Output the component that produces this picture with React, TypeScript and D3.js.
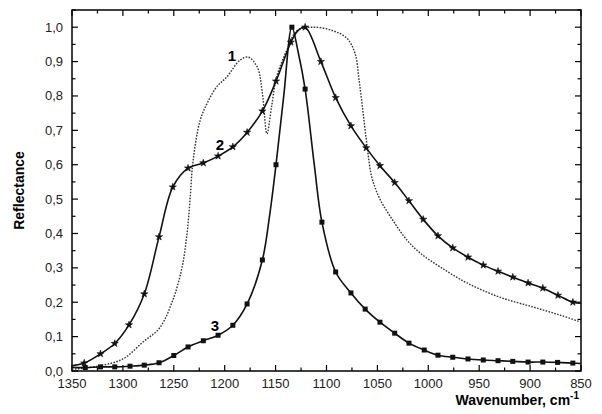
import React from 'react';
import * as d3 from 'd3';

// Curve 1 (dotted)
const curve1: [number, number][] = [
  [1350, 0.005], [1325, 0.014], [1300, 0.035], [1280, 0.085], [1264, 0.125],
  [1251, 0.206], [1242, 0.3], [1237, 0.4], [1234, 0.5], [1231, 0.613],
  [1224, 0.73], [1217, 0.78], [1208, 0.826], [1198, 0.855], [1185, 0.904],
  [1177, 0.913], [1168, 0.884], [1163, 0.808], [1158.5, 0.69], [1154, 0.768],
  [1149, 0.855], [1139, 0.933], [1129, 0.99], [1113, 1.0], [1094, 0.99],
  [1080, 0.968], [1072, 0.924], [1068, 0.846], [1064, 0.75], [1060, 0.651],
  [1055.5, 0.564], [1047.5, 0.5], [1035, 0.439], [1021, 0.381], [1008, 0.343],
  [988, 0.302], [962, 0.256], [930, 0.215], [897, 0.186], [871, 0.163], [850, 0.142],
];

// Curve 2 (solid, star markers)
const curve2Markers: [number, number][] = [
  [1338, 0.023], [1322, 0.05], [1308, 0.08], [1294, 0.134], [1279, 0.224],
  [1264.5, 0.39], [1251, 0.535], [1236, 0.59], [1221, 0.605], [1206.5, 0.625],
  [1192, 0.652], [1178, 0.694], [1163, 0.756], [1149.6, 0.843], [1135, 0.956],
  [1121, 1.0], [1105.5, 0.9], [1091, 0.795], [1076, 0.713], [1061, 0.649],
  [1047.5, 0.597], [1033, 0.548], [1019, 0.495], [1005, 0.441], [990.5, 0.393],
  [976, 0.358], [961, 0.331], [946, 0.308], [931.5, 0.29], [917, 0.273],
  [902, 0.256], [887.5, 0.241], [872.6, 0.22], [858, 0.2],
];
const curve2Line: [number, number][] = [
  [1350, 0.015], ...curve2Markers.slice(0, 15), [1128, 0.99],
  ...curve2Markers.slice(15), [850, 0.197],
];

// Curve 3 (solid, square markers)
const curve3Markers: [number, number][] = [
  [1337, 0.01], [1322, 0.012], [1308, 0.012], [1293, 0.014], [1279, 0.017],
  [1264.5, 0.024], [1250, 0.045], [1236, 0.07], [1221, 0.088], [1206.5, 0.104],
  [1192, 0.133], [1178, 0.195], [1163, 0.323], [1149.6, 0.6], [1134, 1.0],
  [1121, 0.82], [1104.5, 0.433], [1091, 0.288], [1076, 0.227], [1062, 0.18],
  [1047.5, 0.142], [1033, 0.11], [1019, 0.081], [1004, 0.061], [990.5, 0.046],
  [976, 0.04], [961, 0.035], [946, 0.032], [931.5, 0.03], [917, 0.028],
  [902, 0.026], [887.5, 0.026], [873, 0.025], [858, 0.023],
];
const curve3Line: [number, number][] = [
  [1350, 0.01], ...curve3Markers.slice(0, 13), [1156, 0.45],
  curve3Markers[13], [1142, 0.8], curve3Markers[14], [1128, 0.93],
  curve3Markers[15], [1112, 0.6], ...curve3Markers.slice(16), [850, 0.022],
];

const xTicks = [1350, 1300, 1250, 1200, 1150, 1100, 1050, 1000, 950, 900, 850];
const yTicks = [0, 0.1, 0.2, 0.3, 0.4, 0.5, 0.6, 0.7, 0.8, 0.9, 1.0];

const W = 602;
const H = 414;
const L = 72, R = 581, T = 10, B = 371;

export default function App() {
  const x = d3.scaleLinear().domain([1350, 850]).range([L, R]);
  const y = d3.scaleLinear().domain([0, 1.05]).range([B, T]);

  const line = d3
    .line<[number, number]>()
    .x((d) => x(d[0]))
    .y((d) => y(d[1]))
    .curve(d3.curveCatmullRom.alpha(0.5));

  const star = d3.symbol().type(d3.symbolStar).size(16)();
  const xMinor = d3.range(1350, 849, -25);
  const yMinor = d3.range(0, 1.051, 0.05);
  const font = 'Arial, "Liberation Sans", sans-serif';

  return (
    <div style={{ position: 'absolute', left: 0, top: 0 }}>
      <svg width={W} height={H} style={{ display: 'block', background: '#fff' }}>
        {/* ticks */}
        {xMinor.map((v, i) => {
          const major = i % 2 === 0;
          const len = major ? 6 : 3.5;
          return (
            <g key={'xt' + v} stroke="#000" strokeWidth={1.2}>
              <line x1={x(v)} x2={x(v)} y1={B} y2={B - len} />
              <line x1={x(v)} x2={x(v)} y1={T} y2={T + len} />
            </g>
          );
        })}
        {yMinor.map((v, i) => {
          const major = i % 2 === 0;
          const len = major ? 6 : 3.5;
          return (
            <g key={'yt' + i} stroke="#000" strokeWidth={1.2}>
              <line x1={L} x2={L + len} y1={y(v)} y2={y(v)} />
              <line x1={R} x2={R - len} y1={y(v)} y2={y(v)} />
            </g>
          );
        })}
        <rect x={L} y={T} width={R - L} height={B - T} fill="none" stroke="#000" strokeWidth={1.5} />

        {/* tick labels */}
        {xTicks.map((v) => (
          <text key={'xl' + v} x={x(v)} y={388} textAnchor="middle" fontFamily={font} fontSize={13} fill="#222">
            {v}
          </text>
        ))}
        {yTicks.map((v) => (
          <text key={'yl' + v} x={63} y={y(v) + 4.5} textAnchor="end" fontFamily={font} fontSize={13} fill="#222">
            {v.toFixed(1).replace('.', ',')}
          </text>
        ))}

        {/* axis titles */}
        <text x={579} y={405} textAnchor="end" fontFamily={font} fontSize={14} fontWeight="bold">
          Wavenumber, cm<tspan dy={-6} fontSize={10}>-1</tspan>
        </text>
        <text
          transform={`translate(24,${(T + B) / 2}) rotate(-90)`}
          textAnchor="middle"
          fontFamily={font}
          fontSize={14}
          fontWeight="bold"
        >
          Reflectance
        </text>

        {/* curves */}
        <path d={line(curve1) || ''} fill="none" stroke="#333" strokeWidth={1.4} strokeDasharray="1.6,1.4" />
        <path d={line(curve2Line) || ''} fill="none" stroke="#111" strokeWidth={1.6} />
        <path d={line(curve3Line) || ''} fill="none" stroke="#111" strokeWidth={1.6} />

        {curve2Markers.map((d, i) => (
          <path key={'m2' + i} d={star || ''} transform={`translate(${x(d[0])},${y(d[1])})`} fill="#111" stroke="#111" strokeWidth={0.6} />
        ))}
        {curve3Markers.map((d, i) => (
          <rect key={'m3' + i} x={x(d[0]) - 2.5} y={y(d[1]) - 2.5} width={5} height={5} fill="#111" />
        ))}

        {/* curve labels */}
        <text x={232} y={61} textAnchor="middle" fontFamily={font} fontSize={15} fontWeight="bold">1</text>
        <text x={220} y={150} textAnchor="middle" fontFamily={font} fontSize={15} fontWeight="bold">2</text>
        <text x={215} y={331} textAnchor="middle" fontFamily={font} fontSize={15} fontWeight="bold">3</text>
      </svg>
    </div>
  );
}
